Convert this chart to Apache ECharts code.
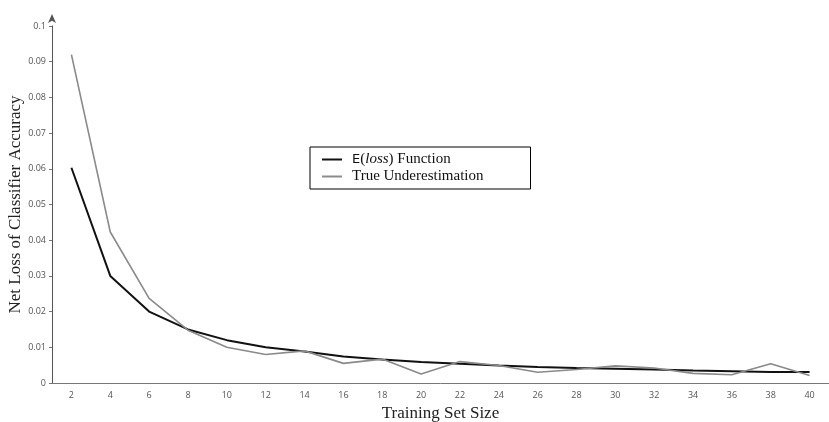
<!DOCTYPE html>
<html lang="en">
<head>
    <meta charset="UTF-8">
    <title>Net Loss of Classifier Accuracy</title>
    <script src="https://cdn.jsdelivr.net/npm/echarts@6/dist/echarts.min.js"></script>
    <style>
        * { margin: 0; padding: 0; }
        #main { width: 829px; height: 422px; background: #fff; }
    </style>
</head>
<body>
    <div id="main"></div>
    <script>
        var sizes = ['2', '4', '6', '8', '10', '12', '14', '16', '18', '20',
            '22', '24', '26', '28', '30', '32', '34', '36', '38', '40'];
        var expectedLoss = [0.0603, 0.0300, 0.0200, 0.0150, 0.0120, 0.0100, 0.0088, 0.0074, 0.0066, 0.0059,
            0.0054, 0.0049, 0.0045, 0.0042, 0.0040, 0.0038, 0.0035, 0.0033, 0.0031, 0.0031];
        var trueUnder = [0.0920, 0.0423, 0.0237, 0.0148, 0.0100, 0.0080, 0.0090, 0.0055, 0.0067, 0.0025,
            0.0060, 0.0049, 0.0030, 0.0038, 0.0048, 0.0042, 0.0027, 0.0023, 0.0054, 0.0021];

        var serif = '"Liberation Serif", "DejaVu Serif", serif';
        var myChart = echarts.init(document.getElementById('main'));

        var option = {
            backgroundColor: '#fff',
            animation: false,
            grid: { left: 52, right: 0, top: 26, bottom: 39, outerBoundsMode: 'none', containLabel: false },
            legend: {
                orient: 'vertical',
                left: 310,
                top: 147,
                padding: [5, 47, 5, 12],
                itemWidth: 20,
                itemHeight: 10,
                itemGap: 2,
                borderColor: '#000',
                borderWidth: 1,
                icon: 'path://M0,4 L20,4 L20,6 L0,6 Z',
                textStyle: {
                    fontFamily: serif,
                    fontSize: 15,
                    color: '#111',
                    padding: [0, 0, 0, 5],
                    rich: {
                        sf: { fontFamily: '"DejaVu Sans", sans-serif', fontSize: 13, color: '#111' },
                        it: { fontFamily: serif, fontStyle: 'italic', fontSize: 15, color: '#111' },
                        rm: { fontFamily: serif, fontSize: 15, color: '#111' }
                    }
                },
                formatter: function (name) {
                    if (name === 'E(loss) Function') {
                        return '{sf|E}{rm|(}{it|loss}{rm|) Function}';
                    }
                    return name;
                }
            },
            xAxis: {
                type: 'category',
                data: sizes,
                boundaryGap: true,
                name: 'Training Set Size',
                nameLocation: 'middle',
                nameGap: 21,
                nameTextStyle: { fontFamily: serif, fontSize: 17, color: '#222' },
                axisLine: { lineStyle: { color: '#777', width: 1 } },
                axisTick: { alignWithLabel: true, length: 3, lineStyle: { color: '#777' } },
                axisLabel: { fontSize: 9, color: '#555', margin: 8, fontFamily: '"Open Sans", sans-serif' },
                splitLine: { show: false }
            },
            yAxis: {
                type: 'value',
                min: 0,
                max: 0.1,
                interval: 0.01,
                name: 'Net Loss of Classifier Accuracy',
                nameLocation: 'middle',
                nameRotate: 90,
                nameGap: 28,
                nameMoveOverlap: false,
                nameTextStyle: { fontFamily: serif, fontSize: 17, color: '#222' },
                axisLine: {
                    show: true,
                    symbol: ['none', 'arrow'],
                    symbolSize: [6, 9],
                    symbolOffset: [0, 12],
                    lineStyle: { color: '#555', width: 1 }
                },
                axisTick: { show: true, length: 3, lineStyle: { color: '#777' } },
                axisLabel: {
                    fontSize: 9,
                    color: '#555',
                    margin: 6,
                    fontFamily: '"Open Sans", sans-serif',
                    formatter: function (v) { return String(+v.toFixed(2)); }
                },
                splitLine: { show: false }
            },
            series: [
                {
                    name: 'E(loss) Function',
                    type: 'line',
                    data: expectedLoss,
                    symbol: 'none',
                    lineStyle: { color: '#111', width: 2 },
                    itemStyle: { color: '#111' }
                },
                {
                    name: 'True Underestimation',
                    type: 'line',
                    data: trueUnder,
                    symbol: 'none',
                    lineStyle: { color: '#8a8a8a', width: 1.6 },
                    itemStyle: { color: '#8a8a8a' }
                }
            ]
        };

        myChart.setOption(option);
    </script>
</body>
</html>
